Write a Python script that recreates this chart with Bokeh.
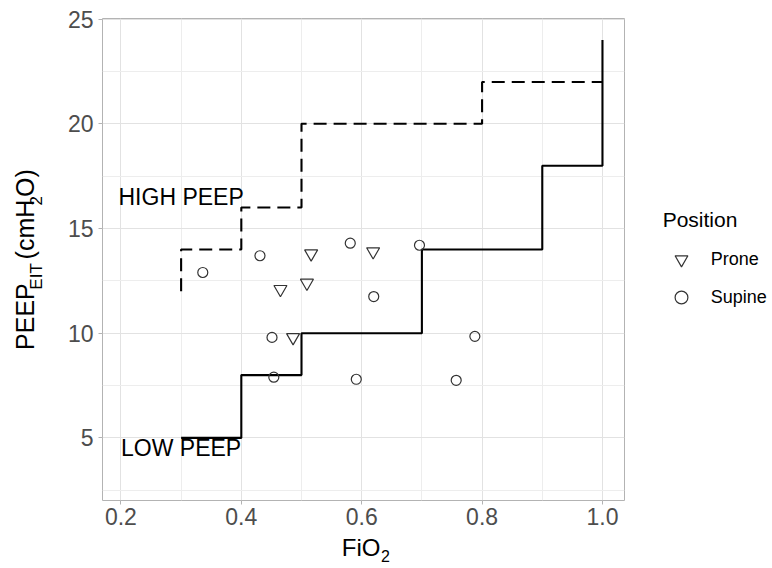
import math
from bokeh.plotting import figure
from bokeh.layouts import row, column
from bokeh.models import (ColumnDataSource, FixedTicker, Range1d, Legend, LegendItem,
                          PrintfTickFormatter)
from bokeh.core.properties import value
from bokeh.embed import file_html
from bokeh.resources import INLINE

# ---------------- data ----------------
x_ticks = [0.2, 0.4, 0.6, 0.8, 1.0]
x_minor = [0.3, 0.5, 0.7, 0.9]
y_ticks = [5, 10, 15, 20, 25]
y_minor = [2.5, 7.5, 12.5, 17.5, 22.5]

# ARDSnet lower PEEP table (step, "after")
low_fio2 = [0.3, 0.4, 0.5, 0.7, 0.9, 1.0]
low_peep = [5, 8, 10, 14, 18, 24]
# ARDSnet higher PEEP table (step, "after")
high_fio2 = [0.3, 0.3, 0.4, 0.5, 0.8, 1.0]
high_peep = [12, 14, 16, 20, 22, 22]

prone_fio2 = [0.516, 0.619, 0.465, 0.509, 0.486]
prone_peep = [13.8, 13.9, 12.1, 12.4, 9.8]

supine_fio2 = [0.336, 0.431, 0.581, 0.696, 0.620, 0.451, 0.454, 0.591, 0.757, 0.788]
supine_peep = [12.9, 13.7, 14.3, 14.2, 11.75, 9.8, 7.9, 7.8, 7.75, 9.85]

ann_text = ["HIGH PEEP", "LOW PEEP"]
ann_x = [0.3, 0.3]
ann_y = [16.5, 4.5]

legend_title = "Position"
legend_labels = ["Prone", "Supine"]

# axis title pieces: (text, is_subscript)
y_title = [("PEEP", False), ("EIT", True), (" (cmH", False), ("2", True), ("O)", False)]
x_title = [("FiO", False), ("2", True)]

# ---------------- layout ----------------
X_LO, X_HI = 0.1694, 1.0366
Y_LO, Y_HI = 2.01, 25.03
YW = 50                      # width of the strip holding the y title
FW, FH = 522, 482
BL, BT, BR, BB = 52, 18, 140, 33
H_MAIN = BT + FH + BB
XH = 35                      # height of the strip holding the x title
FONT = "Liberation Sans"

p = figure(width=BL + FW + BR, height=H_MAIN,
           frame_width=FW, frame_height=FH,
           x_range=Range1d(X_LO, X_HI), y_range=Range1d(Y_LO, Y_HI),
           output_backend="svg", toolbar_location=None,
           min_border_left=BL, min_border_top=BT,
           min_border_right=BR, min_border_bottom=BB)

p.outline_line_color = "#b3b3b3"
p.outline_line_width = 1
p.background_fill_color = "white"
p.border_fill_color = "white"

p.xaxis.ticker = FixedTicker(ticks=x_ticks, minor_ticks=x_minor)
p.yaxis.ticker = FixedTicker(ticks=y_ticks, minor_ticks=y_minor)
p.xaxis.formatter = PrintfTickFormatter(format="%.1f")
for ax in (p.xaxis, p.yaxis):
    ax.axis_line_color = None
    ax.major_tick_line_color = "#b3b3b3"
    ax.major_tick_out = 4
    ax.major_tick_in = 0
    ax.minor_tick_line_color = None
    ax.major_label_text_font = FONT
    ax.major_label_text_font_size = "23px"
    ax.major_label_text_color = "#4d4d4d"
p.xaxis.major_label_standoff = 3
p.yaxis.major_label_standoff = 5

for g in (p.xgrid, p.ygrid):
    g.grid_line_color = "#e2e2e2"
    g.grid_line_width = 1
    g.minor_grid_line_color = "#ededed"
    g.minor_grid_line_width = 1

# step lines
p.step(high_fio2, high_peep, mode="after", line_color="black", line_width=2.1,
       line_dash="13 7")
p.step(low_fio2, low_peep, mode="after", line_color="black", line_width=2.1)

# annotations
ann_src = ColumnDataSource(dict(x=ann_x, y=ann_y, text=ann_text))
p.text(x="x", y="y", text="text", source=ann_src, text_font=value(FONT),
       text_font_size=value("23px"), text_align="center", text_baseline="middle",
       text_color="black")

# points
r_prone = p.scatter(prone_fio2, prone_peep, marker="inverted_triangle", size=13,
                    fill_color=None, line_color="#333333", line_width=1.2)
r_sup = p.scatter(supine_fio2, supine_peep, marker="circle", size=10,
                  fill_color=None, line_color="#333333", line_width=1.2)

# legend (right side panel)
legend = Legend(items=[LegendItem(label=legend_labels[0], renderers=[r_prone]),
                       LegendItem(label=legend_labels[1], renderers=[r_sup])],
                title=legend_title, title_text_font=FONT, title_text_font_size="21px",
                title_text_font_style="normal", title_text_color="black",
                title_standoff=11, glyph_width=36, glyph_height=32, spacing=6,
                label_standoff=12, padding=0, margin=0, border_line_color=None,
                background_fill_alpha=0, label_text_font=FONT,
                label_text_font_size="18px", label_text_color="black",
                location=(38.7, 187))
p.add_layout(legend, "right")

# ---------------- helpers ----------------
adv = {"P": 667, "E": 667, "I": 278, "T": 611, " ": 278, "(": 333, "c": 500,
       "m": 833, "H": 722, "2": 556, "O": 778, ")": 333, "F": 611, "i": 222}

def width_of(t, fs):
    return sum(adv[c] for c in t) * fs / 1000

def strip_fig(w, h):
    f = figure(width=w, height=h, x_range=Range1d(0, w), y_range=Range1d(0, h),
               min_border=0, toolbar_location=None, output_backend="svg",
               x_axis_location=None, y_axis_location=None)
    f.outline_line_color = None
    f.grid.grid_line_color = None
    f.border_fill_color = "white"
    f.background_fill_color = "white"
    return f

# ---------------- y title strip ----------------
Y_MAIN_FS, Y_SUB_FS = 25, 17
yfig = strip_fig(YW, H_MAIN)
ws = [width_of(t, Y_SUB_FS if s else Y_MAIN_FS) for t, s in y_title]
pos = 268 + sum(ws) / 2          # canvas y of the start (bottom) of the title
yt = dict(x=[], y=[], text=[], size=[])
for (t, s), w in zip(y_title, ws):
    fs = Y_SUB_FS if s else Y_MAIN_FS
    lead = len(t) - len(t.lstrip(" "))
    yt["x"].append(35.5 if s else 24.5)
    yt["y"].append(H_MAIN - (pos - width_of(" " * lead, fs)))
    yt["text"].append(t.lstrip(" "))
    yt["size"].append(f"{fs}px")
    pos -= w
yfig.text(x="x", y="y", text="text", text_font_size="size",
          source=ColumnDataSource(yt), angle=math.pi / 2, text_align="left",
          text_baseline="middle", text_font=value(FONT), text_color="black")

# ---------------- x title strip ----------------
X_MAIN_FS, X_SUB_FS = 24, 16
XW = YW + BL + FW + BR
xfig = strip_fig(XW, XH)
xws = [width_of(t, X_SUB_FS if s else X_MAIN_FS) for t, s in x_title]
xc = YW + BL + FW / 2 + 2
xpos = xc - sum(xws) / 2
xt = dict(x=[], y=[], text=[], size=[])
for (t, s), w in zip(x_title, xws):
    xt["x"].append(xpos + (0.5 if s else 0))
    xt["y"].append(XH - ((555 if s else 547) - H_MAIN))
    xt["text"].append(t)
    xt["size"].append(f"{X_SUB_FS if s else X_MAIN_FS}px")
    xpos += w
xfig.text(x="x", y="y", text="text", text_font_size="size",
          source=ColumnDataSource(xt), text_align="left",
          text_baseline="middle", text_font=value(FONT), text_color="black")

layout = column(row(yfig, p, spacing=0), xfig, spacing=0)
open("out.html", "w").write(file_html(layout, INLINE))
